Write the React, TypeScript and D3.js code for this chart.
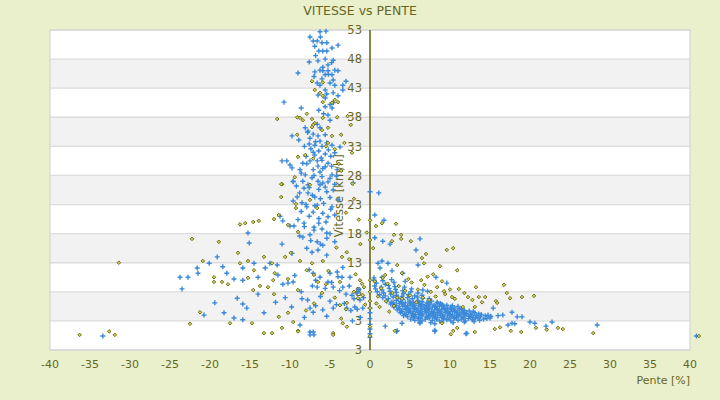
import { useEffect, useRef } from 'react'
import * as d3 from 'd3'

type Pt = [number, number] // [pente %, vitesse km/h]

const SLOPE_TICKS = [-40, -35, -30, -25, -20, -15, -10, -5, 0, 5, 10, 15, 20, 25, 30, 35, 40]
const SPEED_TICKS = [-2, 3, 8, 13, 18, 23, 28, 33, 38, 43, 48, 53]
const SPEED_TICK_LABELS = ['3', '3', '8', '13', '18', '23', '28', '33', '38', '43', '48', '53']

// blue "+" series
const BLUE_COLUMN: Pt[] = [
  [-7.5, 51.8], [-6.25, 52.7], [-5.5, 52.8], [-7.1, 51.1], [-6.6, 51.1], [-6, 50.8], [-5.4, 50.8], [-4, 50.4],
  [-4.75, 49.9], [-5.9, 49.4], [-5.4, 49.4], [-6.4, 49.4], [-6.9, 50.2], [-4.6, 47.8], [-6.5, 47.7], [-7.6, 47.5],
  [-5.25, 47], [-9, 45.6], [-6.9, 45.8], [-6.25, 46.1], [-5.9, 46], [-5.25, 46], [-4.4, 46.1], [-4, 46],
  [-4.75, 45.3], [-5.6, 45.3], [-3, 44.2], [-6.25, 43.5], [-6.6, 43.9], [-5, 43.9], [-4.4, 43.5], [-3.4, 43.5],
  [-3.4, 42.7], [-5.6, 42.7], [-4.6, 42.2], [-6.5, 41.8], [-5.6, 41.3], [-4, 41.7], [-10.75, 40.6], [-4.6, 40.5],
  [-4.75, 39.6], [-5.6, 39.8], [-8.6, 39.6], [-5.25, 38.4], [-5, 37.5], [-8.1, 36.2], [-6.25, 36.2], [-7.75, 35.6],
  [-7.1, 35.1], [-6.5, 34.8], [-5.6, 35], [-9.75, 34.8], [-7.5, 34.4], [-6.25, 33.9], [-5.4, 33.6], [-7.6, 33.4],
  [-6.9, 33.2], [-6, 33], [-4.75, 33.2], [-3.75, 32.9], [-6.4, 32.2], [-7.1, 32], [-5.6, 31.7], [-4.9, 31.3],
  [-6.9, 31.5], [-8, 31.3], [-11, 30.5], [-10.4, 30.5], [-10, 29.8], [-8.4, 30.1], [-7.5, 30.5], [-6.6, 30.5],
  [-6, 30.6], [-5.25, 30.1], [-6.5, 29.6], [-5.6, 29.5], [-7.1, 29], [-6.25, 28.6], [-4.75, 28.1], [-4.1, 29],
  [-9.75, 29.3], [-8.75, 29], [-8.1, 28.1], [-7.25, 27.6], [-6.5, 27], [-5.9, 26.7], [-5.25, 26.9], [-4.4, 26.5],
  [-2.1, 26.7], [-9.6, 27], [-8.4, 27], [-7.75, 26.4],
  [-8.9, 34.1], [-8.2, 33.0], [-7.4, 32.6], [-6.8, 33.8], [-5.2, 32.4], [-4.4, 31.9], [-6.1, 31.0], [-7.9, 30.0],
  [-5.9, 29.2], [-4.8, 29.6], [-8.6, 28.4], [-7.0, 28.0], [-6.0, 27.8], [-5.0, 27.5], [-4.2, 27.9], [-9.2, 26.2],
  [-7.6, 25.9], [-6.4, 25.6], [-5.6, 26.0], [-4.6, 25.5], [-8.8, 25.0], [-7.2, 24.6], [-6.2, 24.0], [-5.0, 24.2],
  [-4.0, 23.8], [-9.6, 23.6], [-8.0, 23.0], [-6.9, 22.8], [-5.8, 23.2], [-4.9, 22.2], [-8.6, 21.8], [-7.6, 21.0],
  [-6.4, 20.6], [-5.5, 20.0], [-4.4, 21.2], [-9.0, 20.4], [-8.2, 19.2], [-7.0, 18.6], [-6.0, 18.8], [-5.0, 18.0],
  [-8.8, 17.6], [-7.4, 16.8], [-6.2, 16.2], [-5.4, 17.2], [-4.4, 16.6], [-7.8, 35.4], [-6.6, 36.8], [-5.8, 38.6],
  [-6.4, 39.2], [-5.0, 40.2], [-6.0, 44.6], [-5.2, 45.4], [-6.8, 48.6], [-5.6, 48.0], [-4.8, 47.4], [-6.2, 51.8],
  [-5.9, 46.6], [-7.0, 45.0], [-4.6, 44.4], [-5.4, 42.0],
]

const BLUE_LEFT: Pt[] = [
  [-9.6, 26.9], [-8.25, 25.8], [-7.75, 25], [-6.9, 24.3], [-6.25, 26.4], [-5.4, 25.2], [-9.1, 24.3], [-8.5, 23.3],
  [-7.9, 22.6], [-7.1, 21.7], [-6.6, 22.9], [-5.9, 21.5], [-5.25, 20.9], [-4.75, 22.6], [-11.25, 21], [-10.9, 20.2],
  [-10, 19.3], [-9.5, 19.3], [-8.25, 19.8], [-7, 19.1], [-6.4, 19.8], [-5.4, 18.1], [-15.25, 18.1], [-15.1, 16.4],
  [-11, 16.2], [-8.4, 17.4], [-7.5, 17.8], [-6.6, 16.6], [-5.9, 16], [-7.9, 15.5], [-7.25, 14.8], [-6.5, 15.2],
  [-5.4, 14.3], [-9.75, 14.6], [-19.1, 14], [-20.1, 12.9], [-21.6, 12.1], [-21.5, 11.2], [-18.4, 12.3], [-17.9, 11.2],
  [-15.9, 12.1], [-14.5, 12.9], [-13.1, 12.1], [-12.5, 12.9], [-11.6, 12.6], [-11.5, 10.9], [-23.75, 10.5], [-22.75, 10.5],
  [-23.5, 8.5], [-17, 10.2], [-15.9, 10], [-14, 10.5], [-10.9, 9.3], [-9.6, 9.7], [-7.1, 11.2], [-6.25, 10.5],
  [-5, 11.2], [-4.1, 11.4], [-3.5, 10.5], [-2.5, 10.5], [-4.6, 8.8], [-5.25, 9.7], [-3.4, 8.8], [-2.25, 7.4],
  [-1.6, 7.8], [-1.25, 6.6], [-1.9, 5.4], [-0.9, 5.2], [-2.9, 5.2], [-4.6, 5.2], [-5.9, 4.9], [-7.5, 5.2],
  [-7.1, 4.5], [-8.5, 6.8], [-14, 7.6], [-16.6, 6.9], [-19.4, 6.1], [-15.9, 5.9], [-15.4, 5.2], [-20.75, 4],
  [-18.25, 4.4], [-17, 3.5], [-15.9, 3.2], [-13.25, 4.4], [-8.75, 2.3], [-7.5, 1.1], [-7.1, 1.1], [-10.25, 9.5],
  [-6.6, 8.8], [-33.4, 0.4], [-7.5, 0.6], [-7, 0.6],
  [-7.6, 11.8], [-6.8, 10.0], [-5.6, 8.6], [-4.8, 9.6], [-3.8, 8.2], [-3.0, 7.6], [-2.6, 9.0], [-2.0, 6.8],
  [-1.4, 8.4], [-0.8, 7.0], [-6.2, 7.2], [-5.0, 6.4], [-4.2, 5.8], [-3.2, 6.0], [-2.4, 4.8], [-1.6, 5.0],
  [-6.8, 5.6], [-7.8, 6.6], [-8.6, 8.0], [-9.4, 10.8], [-7.2, 9.0], [-4.0, 10.6], [-3.4, 12.2], [-1.2, 3.6],
  [-2.2, 3.0], [-5.4, 3.8], [-8.2, 3.6], [-9.8, 5.4], [-10.6, 7.0], [-11.8, 6.2],
]

const BLUE_AXIS: Pt[] = [
  [0, 25.2], [0, 5.2], [0, 4.4], [0, 3.4], [0, 2.4], [0, 1.6], [0, 0.8], [0, 0.2],
]

const BLUE_RIGHT: Pt[] = [
  [1.1, 25], [0.6, 21.2], [1.75, 20.3], [0.6, 17.3], [1.6, 16.7], [2.5, 16.2], [6.25, 17.1], [5.75, 15.2],
  [1, 12.9], [1.5, 13.3], [2.25, 12.9], [1.25, 12.1], [2.75, 11.6], [4.1, 11.2], [6, 12.6], [8.25, 10.5],
  [9.6, 9.5], [0.5, 10.4], [1.5, 10.5], [15.4, 5.2], [16, 3.9], [16.6, 4], [17.75, 4.5], [18.4, 3.7],
  [19, 3.7], [20, 2.8], [20.6, 2.6], [22.75, 2.8], [22, 2.1], [28.4, 2.3], [17.75, 2.6], [18.1, 2.5],
  [17.25, 2.3], [12.1, 0.9], [8.1, 1.4], [6.25, 2.6], [4, 2.6], [1.9, 2.1], [3.4, 1.3], [8.1, 2.5],
  [14.75, 4], [15, 3.5], [3.3, 1.2], [8.1, 1.2], [12, 0.8], [40.8, 0.4],
]

const BLUE_BLOB: Pt[] = [
  [5.1, 3.3], [5.6, 3.1], [6.0, 3.4], [6.5, 3.0], [6.9, 3.3], [7.4, 3.5], [7.8, 3.1], [8.3, 3.3], [8.7, 3.0], [9.2, 3.4],
  [9.6, 3.2], [10.1, 3.0], [10.5, 3.4], [11.0, 3.1], [11.4, 3.3], [11.9, 3.0], [12.3, 3.4], [12.8, 3.2], [13.2, 3.5], [13.7, 3.1],
  [14.2, 3.3],
  [4.2, 3.9], [4.7, 3.7], [5.2, 4.0], [5.6, 3.8], [6.1, 3.6], [6.5, 3.9], [7.0, 3.7], [7.5, 4.0], [7.9, 3.8], [8.4, 3.6],
  [8.8, 3.9], [9.3, 3.7], [9.7, 4.0], [10.2, 3.8], [10.6, 3.6], [11.1, 3.9], [11.5, 3.7], [12.0, 4.0], [12.4, 3.8], [12.9, 3.6],
  [13.3, 3.9], [13.8, 3.7], [14.4, 3.9], [15.1, 3.8],
  [3.8, 4.4], [4.3, 4.2], [4.8, 4.5], [5.3, 4.3], [5.7, 4.1], [6.2, 4.4], [6.6, 4.2], [7.1, 4.5], [7.6, 4.3], [8.0, 4.1],
  [8.5, 4.4], [8.9, 4.2], [9.4, 4.5], [9.8, 4.3], [10.3, 4.1], [10.8, 4.4], [11.2, 4.2], [11.7, 4.5], [12.1, 4.3], [12.6, 4.1],
  [13.1, 4.4], [13.6, 4.2],
  [3.4, 4.9], [3.9, 4.7], [4.4, 5.0], [4.9, 4.8], [5.4, 4.6], [5.8, 4.9], [6.3, 4.7], [6.8, 5.0], [7.2, 4.8], [7.7, 4.6],
  [8.1, 4.9], [8.6, 4.7], [9.0, 5.0], [9.5, 4.8], [10.0, 4.6], [10.4, 4.9], [10.9, 4.7], [11.4, 5.0], [11.8, 4.8], [12.4, 4.7],
  [3.0, 5.4], [3.6, 5.2], [4.1, 5.5], [4.6, 5.3], [5.0, 5.1], [5.5, 5.4], [6.0, 5.2], [6.4, 5.5], [6.9, 5.3], [7.3, 5.1],
  [7.8, 5.4], [8.3, 5.2], [8.7, 5.5], [9.2, 5.3], [9.7, 5.1], [10.1, 5.4], [10.6, 5.2], [11.0, 5.5],
  [2.6, 5.9], [3.1, 5.7], [3.7, 6.0], [4.2, 5.8], [4.7, 5.6], [5.1, 5.9], [5.6, 5.7], [6.1, 6.0], [6.6, 5.8], [7.0, 5.6],
  [7.5, 5.9], [8.0, 5.7], [8.5, 6.0], [9.0, 5.8], [9.6, 5.7],
  [2.1, 6.4], [2.7, 6.2], [3.3, 6.5], [3.8, 6.3], [4.4, 6.1], [4.9, 6.4], [5.4, 6.2], [6.0, 6.5], [6.5, 6.3], [7.1, 6.1],
  [7.7, 6.4], [8.4, 6.2],
  [1.6, 7.0], [2.3, 6.8], [2.9, 7.1], [3.5, 6.9], [4.1, 6.7], [4.7, 7.0], [5.3, 6.8], [5.9, 7.1], [6.6, 6.9], [7.4, 6.8],
  [1.2, 7.5], [1.9, 7.3], [2.6, 7.6], [3.3, 7.4], [4.0, 7.2], [4.8, 7.5], [5.6, 7.3], [6.5, 7.4],
  [0.9, 8.0], [1.7, 7.8], [2.5, 8.1], [3.3, 7.9], [4.2, 7.7], [5.1, 8.0], [6.0, 7.8], [7.2, 8.1],
  [0.7, 8.5], [1.5, 8.3], [2.4, 8.6], [3.2, 8.4], [4.1, 8.2], [5.2, 8.5], [6.6, 8.3],
  [0.6, 9.0], [1.4, 8.8], [2.3, 9.1], [3.1, 8.9], [4.3, 8.8],
  [0.8, 9.5], [1.9, 9.3], [3.0, 9.6], [0.5, 10.0], [1.6, 9.9], [2.7, 10.1], [4.4, 9.8],
  [5.4, 3.6], [6.3, 3.5], [7.2, 3.6], [8.1, 3.5], [9.0, 3.6], [9.9, 3.5], [10.8, 3.6], [11.7, 3.5], [12.6, 3.6], [13.5, 3.5],
  [14.6, 3.4], [4.5, 4.1], [5.4, 4.0], [6.3, 4.1], [7.3, 4.0], [8.2, 4.1], [9.1, 4.0], [10.0, 4.1], [10.9, 4.0], [11.8, 4.1],
  [12.7, 4.0], [13.9, 4.1], [4.0, 4.6], [5.0, 4.6], [6.0, 4.5], [6.9, 4.6], [7.9, 4.5], [8.8, 4.6], [9.7, 4.5], [10.6, 4.6],
  [11.5, 4.5], [12.9, 4.6], [3.7, 5.1], [4.6, 5.0], [5.6, 5.1], [6.5, 5.0], [7.4, 5.1], [8.4, 5.0], [9.3, 5.1], [10.2, 5.0],
  [11.2, 5.1], [3.3, 5.6], [4.4, 5.5], [5.3, 5.6], [6.3, 5.5], [7.2, 5.6], [8.2, 5.5], [9.2, 5.6], [10.3, 5.6],
  [2.9, 6.1], [4.0, 6.0], [5.0, 6.1], [6.2, 6.0], [7.3, 6.1], [8.8, 6.0],
  [6.2, 2.8], [7.6, 2.7], [9.0, 2.8], [10.4, 2.7], [11.8, 2.8], [13.0, 2.9],
]

// olive diamond series
const OLIVE_COLUMN: Pt[] = [
  [-7.25, 44.2], [-5.9, 44], [-6.9, 42.7], [-6.25, 42.2], [-5.9, 41.7], [-4.4, 41], [-4, 40.6], [-5.9, 40.6],
  [-4.75, 40.5], [-7.9, 38.6], [-9.1, 38], [-8.75, 37.9], [-8.4, 37.5], [-11.6, 37.7], [-7.25, 37.7], [-5.9, 37.9],
  [-4.1, 38], [-6.9, 37], [-7.1, 36.7], [-7.25, 36.3], [-2.4, 36.7], [-5.25, 36.2], [-6, 35.8], [-9.1, 35],
  [-4.75, 34.8], [-3.6, 35], [-5.25, 33.6], [-5.5, 33], [-4.4, 32.5], [-2.25, 31.9], [-8.1, 31.5], [-9, 31.2],
  [-7.1, 30.9], [-9.4, 27.7], [-11, 26.5], [-7.5, 26.4], [-3.9, 30],
]

const OLIVE_LEFT: Pt[] = [
  [-11.1, 26.5], [-11.1, 24.3], [-9.25, 23.1], [-9.25, 22.4], [-7.5, 23.8], [-6.6, 22.4], [-11.4, 21.2], [-16.25, 19.6],
  [-15.6, 19.8], [-14.6, 20], [-13.9, 20.2], [-12, 20.5], [-10.25, 19.5], [-9, 18.3], [-22.25, 17.1], [-18.9, 16.6],
  [-16.5, 14.7], [-20.9, 13.3], [-16.25, 12.9], [-15.25, 13.3], [-13.25, 14], [-12.25, 12.9], [-10.6, 14], [-9.9, 14.7],
  [-8.75, 13.3], [-7.25, 12.9], [-5.9, 13.3], [-2.9, 14.8], [-3.5, 14], [-19.5, 10.5], [-19.5, 9.7], [-18.5, 9.7],
  [-17.75, 9.3], [-15.25, 10.4], [-14.5, 11.7], [-13.75, 9], [-12.75, 8.8], [-11.9, 11.2], [-12.1, 10], [-10.25, 10.2],
  [-9, 8.3], [-7.9, 11.7], [-7, 10.9], [-6.5, 9.7], [-5.5, 9.3], [-3.75, 9.7], [-1.25, 10], [-0.75, 8.8],
  [-0.9, 7.4], [-1.5, 6.9], [-2.9, 6.1], [-3.75, 5.7], [-21.25, 4.5], [-22.5, 2.5], [-17.5, 2.6], [-14.75, 2.6],
  [-11.4, 3.7], [-10.25, 4.4], [-9.6, 2.8], [-11, 1.8], [-9, 1.3], [-13.25, 0.9], [-12.25, 0.9], [-4.6, 0.9],
  [-3.4, 2.6], [-2.9, 2], [-12, 7.6], [-14.6, 8.3], [-31.4, 13], [-36.3, 0.6], [-32.6, 1.2], [-31.9, 0.6],
  [-9, 1.2], [-4.6, 0.6],
  [-6.0, 7.8], [-4.4, 7.0], [-3.0, 5.0], [-2.0, 8.0], [-1.0, 9.4], [-5.2, 11.6], [-7.0, 6.0], [-8.0, 4.8],
  [-3.6, 3.4], [-1.8, 11.0], [-0.6, 5.8], [-2.6, 13.6], [-4.2, 15.6], [-1.2, 16.2], [-0.4, 18.2], [-1.4, 20.4],
  [-2.0, 24.0], [-2.2, 26.6], [-3.0, 21.6], [-3.6, 28.8], [-3.2, 33.6], [-2.8, 38.2],
]

const OLIVE_AXIS: Pt[] = [
  [0, 20.3], [0, 16.9], [0, 10], [0, 8], [0, 5.2], [0, 6.4], [0, 2.0], [0, 0.4],
]

const OLIVE_RIGHT: Pt[] = [
  [0.75, 19.3], [1.5, 19.8], [3.25, 19.7], [3, 17.8], [3.9, 17.8], [3.9, 17.1], [2.75, 16.7], [5.1, 16.7],
  [0.4, 15.5], [7, 14.5], [6.5, 13.8], [6.75, 12.9], [9.6, 15.2], [10.4, 15.5], [8.75, 12.4], [10.9, 11.7],
  [3.4, 12.6], [4, 11.2], [1.9, 10.9], [7.9, 11], [13.25, 8.8], [16.75, 9.2], [17.1, 7.8], [17.5, 6.9],
  [19, 7.1], [20.5, 7.3], [14.4, 7.1], [15.75, 6.4], [15.9, 6.1], [13.1, 5.4], [12.25, 7.1], [11.1, 8.5],
  [10.25, 7.1], [9.25, 8.1], [13.6, 7.1], [11.6, 5.4], [23.5, 1.8], [24.1, 1.6], [27.9, 0.9], [16.25, 1.9],
  [17.6, 1.3], [18.9, 1.1], [20.75, 1.8], [22.1, 1.5], [15.6, 1.6], [13.1, 1.1], [10.9, 1.8], [10.4, 1.3],
  [10.1, 0.7], [9, 2.6], [3.1, 1.3], [41.1, 0.4],
  [0.6, 9.8], [1.4, 8.6], [2.2, 9.4], [1.0, 7.2], [2.8, 7.8], [3.6, 9.0], [4.4, 8.2], [5.2, 9.6],
  [6.0, 8.4], [6.8, 9.2], [7.6, 8.0], [8.4, 8.8], [9.4, 7.6], [2.0, 6.4], [3.0, 5.6], [4.0, 6.8],
  [5.0, 7.4], [5.8, 6.2], [6.6, 7.0], [7.4, 6.6], [8.2, 7.2], [1.6, 10.4], [4.8, 10.2], [6.4, 10.0],
  [7.2, 10.6], [9.0, 9.8], [10.0, 8.4], [11.8, 7.8], [10.6, 6.8], [12.8, 6.6], [14.0, 6.2], [1.2, 5.4],
  [2.4, 4.6], [3.4, 7.0], [0.8, 6.0],
]

const BLUE = [...BLUE_COLUMN, ...BLUE_LEFT, ...BLUE_AXIS, ...BLUE_RIGHT, ...BLUE_BLOB]
const OLIVE = [...OLIVE_COLUMN, ...OLIVE_LEFT, ...OLIVE_AXIS, ...OLIVE_RIGHT]

const TEXT = '#66661e'
const FONT = '"DejaVu Sans", sans-serif'

export default function App() {
  const svgRef = useRef<SVGSVGElement>(null)

  useEffect(() => {
    document.body.style.margin = '0'
    const svgEl = svgRef.current
    if (!svgEl) return
    const svg = d3.select(svgEl)
    svg.selectAll('*').remove()

    const x = d3.scaleLinear().domain([-40, 40]).range([50, 690])
    const y = d3.scaleLinear().domain([-2, 53]).range([350, 30])

    svg.append('rect').attr('width', 720).attr('height', 400).attr('fill', '#ebf0cc')

    // alternating bands
    d3.pairs(SPEED_TICKS).forEach(([a, b], i) => {
      svg.append('rect')
        .attr('x', x(-40)).attr('y', y(b))
        .attr('width', x(40) - x(-40)).attr('height', y(a) - y(b))
        .attr('fill', i % 2 === 1 ? '#f2f2f2' : '#ffffff')
    })

    SPEED_TICKS.forEach(t => {
      svg.append('line')
        .attr('x1', x(-40)).attr('x2', x(40))
        .attr('y1', y(t)).attr('y2', y(t))
        .attr('stroke', '#dcdcdc').attr('stroke-width', 1.3)
    })

    svg.append('rect')
      .attr('x', x(-40)).attr('y', y(53))
      .attr('width', x(40) - x(-40)).attr('height', y(-2) - y(53))
      .attr('fill', 'none').attr('stroke', '#d8d8d8').attr('stroke-width', 1.3)

    svg.append('text')
      .attr('x', 360).attr('y', 15)
      .attr('text-anchor', 'middle')
      .attr('font-family', FONT).attr('font-size', 12.5)
      .attr('fill', TEXT)
      .text('VITESSE vs PENTE')

    // y tick labels (under the points)
    SPEED_TICKS.forEach((t, i) => {
      svg.append('text')
        .attr('x', x(0) - 8).attr('y', y(t))
        .attr('dy', '0.36em')
        .attr('text-anchor', 'end')
        .attr('font-family', FONT).attr('font-size', 11.5)
        .attr('fill', TEXT)
        .text(SPEED_TICK_LABELS[i])
    })

    svg.append('text')
      .attr('transform', `translate(${x(0) - 27},${y(24.5)}) rotate(-90)`)
      .attr('text-anchor', 'middle')
      .attr('font-family', FONT).attr('font-size', 11.5)
      .attr('fill', TEXT)
      .text('Vitesse [km/h]')

    svg.append('line')
      .attr('x1', x(0)).attr('x2', x(0))
      .attr('y1', y(53)).attr('y2', y(-2))
      .attr('stroke', '#5e5e0c').attr('stroke-width', 1.5)

    svg.append('g').selectAll('text')
      .data(SLOPE_TICKS)
      .enter()
      .append('text')
      .attr('x', d => x(d)).attr('y', 368)
      .attr('text-anchor', 'middle')
      .attr('font-family', FONT).attr('font-size', 11)
      .attr('fill', TEXT)
      .text(d => String(d))

    svg.append('text')
      .attr('x', x(40)).attr('y', 384)
      .attr('text-anchor', 'end')
      .attr('font-family', FONT).attr('font-size', 11)
      .attr('fill', TEXT)
      .text('Pente [%]')

    svg.append('g').selectAll('path')
      .data(BLUE)
      .enter()
      .append('path')
      .attr('d', d => `M${x(d[0]) - 2.5},${y(d[1])}h5M${x(d[0])},${y(d[1]) - 2.5}v5`)
      .attr('stroke', '#3a89da').attr('stroke-width', 1.4)
      .attr('fill', 'none')

    svg.append('g').selectAll('path')
      .data(OLIVE)
      .enter()
      .append('path')
      .attr('d', d => {
        const cx = x(d[0]), cy = y(d[1])
        return `M${cx},${cy - 1.8}L${cx + 1.8},${cy}L${cx},${cy + 1.8}L${cx - 1.8},${cy}Z`
      })
      .attr('fill', '#cfcf6a').attr('stroke', '#626200').attr('stroke-width', 0.9)
  }, [])

  return <svg ref={svgRef} width={720} height={400} style={{ display: 'block' }} />
}
